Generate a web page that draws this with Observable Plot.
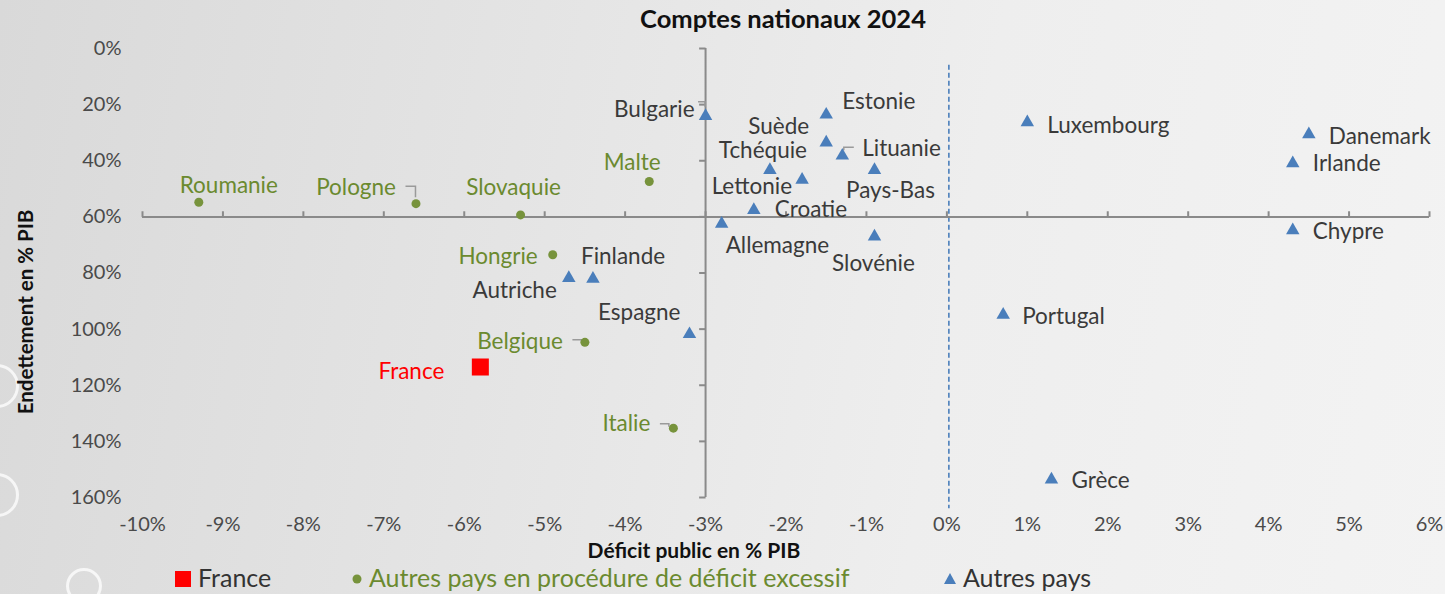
<!DOCTYPE html>
<html>
<head>
<meta charset="utf-8">
<script src="https://cdn.jsdelivr.net/npm/d3@7"></script>
<script src="https://cdn.jsdelivr.net/npm/@observablehq/plot@0.6"></script>
<style>
  html, body { margin: 0; padding: 0; }
  #wrap {
    position: relative; width: 1445px; height: 594px; overflow: hidden;
    background: linear-gradient(100deg, #d9d9d9 0%, #e4e4e4 35%, #eeeeee 65%, #f3f3f3 100%);
    font-family: Lato, "Open Sans", sans-serif;
  }
  .ring { position: absolute; border: 3px solid rgba(255,255,255,0.75); border-radius: 50%; }
  #title { position: absolute; top: 3px; left: 783px; transform: translateX(-50%);
    font-weight: bold; font-size: 25.5px; color: #111; white-space: nowrap; }
  #ylabel { position: absolute; left: 25px; top: 312px; transform: translate(-50%, -50%) rotate(-90deg);
    font-weight: bold; font-size: 20.5px; color: #111; white-space: nowrap; }
  #chart { position: absolute; left: 0; top: 0; }
  #legend { position: absolute; top: 563px; left: 0; width: 1445px; height: 28px; font-size: 25px; white-space: nowrap; line-height: 28px; }
  #legend span.item { position: absolute; top: 0; }
  .sw { display: inline-block; vertical-align: middle; margin-right: 7px; position: relative; top: -2px; }
</style>
</head>
<body>
<div id="wrap">
  <div class="ring" style="left:-25px; top:364px; width:38px; height:38px;"></div>
  <div class="ring" style="left:-25px; top:473px; width:38px; height:38px;"></div>
  <div class="ring" style="left:66px; top:568px; width:30px; height:30px;"></div>
  <div id="chart"></div>
  <div id="title"></div>
  <div id="ylabel"></div>
  <div id="legend"></div>
</div>
<script>
// ---- data ----
const countries = ["France","Roumanie","Pologne","Slovaquie","Malte","Hongrie","Belgique","Italie",
  "Bulgarie","Estonie","Suède","Tchéquie","Lituanie","Lettonie","Pays-Bas","Croatie","Allemagne",
  "Slovénie","Finlande","Autriche","Espagne","Luxembourg","Danemark","Irlande","Chypre","Portugal","Grèce"];
const deficit = [-5.8,-9.3,-6.6,-5.3,-3.7,-4.9,-4.5,-3.4,
  -3.0,-1.5,-1.5,-2.2,-1.3,-1.8,-0.9,-2.4,-2.8,
  -0.9,-4.4,-4.7,-3.2,1.0,4.5,4.3,4.3,0.7,1.3];
const debt = [113.5,54.8,55.3,59.3,47.4,73.5,104.7,135.3,
  24.1,23.6,33.5,43.3,38.2,46.8,43.3,57.6,62.5,
  67.0,82.1,81.8,101.8,26.3,30.6,40.9,64.8,94.9,153.6];
const groups = ["France","PDE","PDE","PDE","PDE","PDE","PDE","PDE",
  "Autres","Autres","Autres","Autres","Autres","Autres","Autres","Autres","Autres",
  "Autres","Autres","Autres","Autres","Autres","Autres","Autres","Autres","Autres","Autres"];
const xTicks = [-10,-9,-8,-7,-6,-5,-4,-3,-2,-1,0,1,2,3,4,5,6];
const yTicks = [0,20,40,60,80,100,120,140,160];
const legendLabels = ["France","Autres pays en procédure de déficit excessif","Autres pays"];
const titleText = "Comptes nationaux 2024";
const xLabel = "Déficit public en % PIB";
const yLabel = "Endettement en % PIB";

// ---- styling / label placement (not data) ----
const colors = {France: "#ff0000", PDE: "#77933c", Autres: "#4a7ebb"};
const textColors = {France: "#ff0000", PDE: "#6b8a2f", Autres: "#3a3a3a"};
const place = {
  "France": ["end",-36,5], "Roumanie": ["middle",30,-16], "Pologne": ["end",-20,-16],
  "Slovaquie": ["middle",-7,-27], "Malte": ["middle",-17,-19], "Hongrie": ["end",-15,2],
  "Belgique": ["end",-22,-1], "Italie": ["end",-23,-4], "Bulgarie": ["end",-11,-6],
  "Estonie": ["start",16,-13], "Suède": ["end",-17,-16], "Tchéquie": ["middle",-7,-19],
  "Lituanie": ["start",20,-7], "Lettonie": ["end",-10,7], "Pays-Bas": ["middle",16,21],
  "Croatie": ["start",21,0], "Allemagne": ["start",4,22], "Slovénie": ["middle",-1,27],
  "Finlande": ["start",-12,-22], "Autriche": ["end",-12,13], "Espagne": ["end",-9,-21],
  "Luxembourg": ["start",20,3], "Danemark": ["start",20,2], "Irlande": ["start",20,1],
  "Chypre": ["start",20,1], "Portugal": ["start",19,2], "Grèce": ["start",20,1]
};
// leader lines (pixel offsets from the point)
const leaders = {
  "Pologne": "M-10,-17H0V-6", "Bulgarie": "M-7,-14H0V-9", "Lituanie": "M12,-8H2V-5",
  "Belgique": "M-12,-2H-3V0", "Italie": "M-13,-4H-4V-1"
};

const rows = countries.map((c, i) => ({country: c, x: deficit[i], y: debt[i], g: groups[i]}));
const axisGray = "#8a8a8a";

const labelMarks = rows.map(r => {
  const [anchor, dx, dy] = place[r.country];
  return Plot.text([r], {x: "x", y: "y", text: "country", textAnchor: anchor, dx, dy,
    fill: textColors[r.g], fontSize: 22.5});
});

const leaderMark = (index, scales) => {
  const g = document.createElementNS("http://www.w3.org/2000/svg", "g");
  rows.filter(r => leaders[r.country]).forEach(r => {
    const p = document.createElementNS("http://www.w3.org/2000/svg", "path");
    p.setAttribute("d", leaders[r.country]);
    p.setAttribute("transform", `translate(${scales.x(r.x)},${scales.y(r.y)})`);
    p.setAttribute("fill", "none");
    p.setAttribute("stroke", "#9a9a9a");
    p.setAttribute("stroke-width", "1.5");
    g.appendChild(p);
  });
  return g;
};

const chart = Plot.plot({
  width: 1445, height: 565,
  marginLeft: 142, marginRight: 16, marginTop: 48, marginBottom: 68,
  style: {background: "transparent", fontFamily: "Lato, 'Open Sans', sans-serif"},
  x: {domain: [-10, 6]},
  y: {domain: [0, 160], reverse: true},
  marks: [
    Plot.axisX(xTicks, {tickSize: 0, tickPadding: 19, fontSize: 20, fill: "#4a4a4a",
      tickFormat: d => d + "%", label: null}),
    Plot.axisY(yTicks, {tickSize: 0, tickPadding: 21, fontSize: 20, fill: "#4a4a4a",
      tickFormat: d => d + "%", label: null}),
    Plot.ruleX([0], {y1: 6, y2: 164, stroke: "#4a7ebb", strokeWidth: 1.6, strokeDasharray: "5,3", dx: 2}),
    Plot.ruleY([60], {x1: -10, x2: 6, stroke: axisGray, strokeWidth: 2}),
    Plot.ruleX([-3], {y1: 0, y2: 160, stroke: axisGray, strokeWidth: 2}),
    Plot.link(xTicks, {x1: d => d, x2: d => d, y1: 60, y2: 58, stroke: axisGray, strokeWidth: 2}),
    Plot.link(yTicks, {x1: -3, x2: -3.08, y1: d => d, y2: d => d, stroke: axisGray, strokeWidth: 2}),
    leaderMark,
    Plot.dot(rows.filter(r => r.g === "PDE"), {x: "x", y: "y", r: 4.5, fill: colors.PDE, symbol: "circle"}),
    Plot.dot(rows.filter(r => r.g === "Autres"), {x: "x", y: "y", r: 5, fill: colors.Autres, symbol: "triangle"}),
    Plot.dot(rows.filter(r => r.g === "France"), {x: "x", y: "y", r: 9.6, fill: colors.France, symbol: "square"}),
    ...labelMarks,
    Plot.text([xLabel], {frameAnchor: "bottom", dx: -92, dy: 60, fontSize: 21,
      fontWeight: "bold", fill: "#111"})
  ]
});
document.getElementById("chart").appendChild(chart);
document.getElementById("title").textContent = titleText;
document.getElementById("ylabel").textContent = yLabel;

// ---- legend (HTML, below chart) ----
const legend = document.getElementById("legend");
const legendSpec = [
  {label: legendLabels[0], left: 175, color: "#333", sw: `<svg class="sw" width="16" height="16"><rect width="16" height="16" fill="${colors.France}"/></svg>`},
  {label: legendLabels[1], left: 352, color: textColors.PDE, sw: `<svg class="sw" width="10" height="10"><circle cx="5" cy="5" r="4.5" fill="${colors.PDE}"/></svg>`},
  {label: legendLabels[2], left: 944, color: "#333", sw: `<svg class="sw" width="12" height="11"><path d="M6 0 L12 11 L0 11Z" fill="${colors.Autres}"/></svg>`}
];
legendSpec.forEach(s => {
  const el = document.createElement("span");
  el.className = "item";
  el.style.left = s.left + "px";
  el.style.color = s.color;
  el.innerHTML = s.sw + s.label;
  legend.appendChild(el);
});
</script>
</body>
</html>
